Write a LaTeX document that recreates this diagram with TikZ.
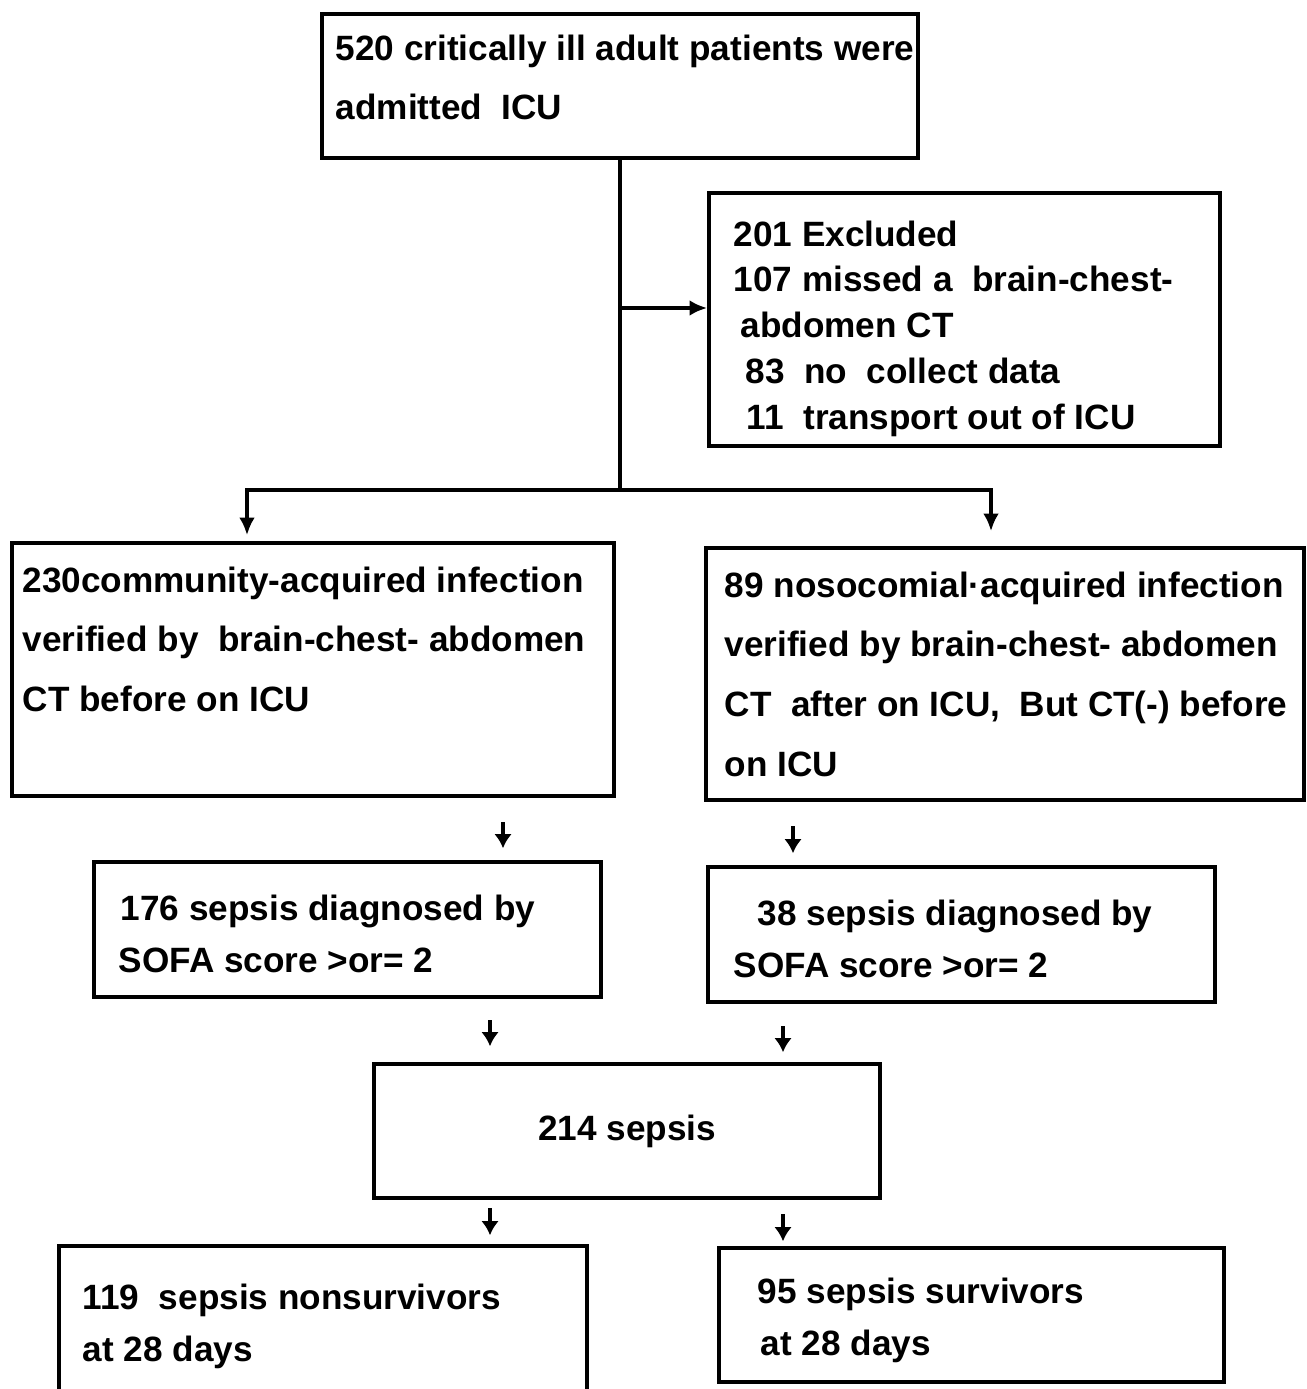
\documentclass[tikz,border=0pt]{standalone}
\usepackage{fontspec}
\setmainfont{Liberation Sans}
\usetikzlibrary{arrows.meta,
           calc,
           positioning}

\tikzset{
  frame/.style={draw, line width=1pt, inner sep=0pt},
  linesp/.style={font=\fontsize{10}{#1}\selectfont\bfseries},
  txt/.style={align=left, inner sep=0pt, anchor=north west, linesp=17pt},
  arr/.style={line width=1pt, -{Latex[length=5pt,width=4.5pt]}},
  sarr/.style={line width=1.1pt, -{Latex[length=4pt,width=5pt]}}
}

\begin{document}
\begin{tikzpicture}[x=0.01cm,y=-0.01cm]
\clip (0,0) rectangle (1306,1389);
\fill[white] (0,0) rectangle (1306,1389);
% boxes
\node[frame, minimum width=5.96cm, minimum height=1.44cm] (adm) at (620,86) {};
\node[frame, minimum width=5.11cm, minimum height=2.53cm] (excl) at (964.5,319.5) {};
\node[frame, minimum width=6.02cm, minimum height=2.53cm] (comm) at (313,669.5) {};
\node[frame, minimum width=5.98cm, minimum height=2.52cm] (noso) at (1005,674) {};
\node[frame, minimum width=5.07cm, minimum height=1.35cm] (sofaA) at (347.5,929.5) {};
\node[frame, minimum width=5.07cm, minimum height=1.35cm] (sofaB) at (961.5,934.5) {};
\node[frame, linesp=17pt, minimum width=5.06cm, minimum height=1.34cm] (seps) at (627,1131) {214 sepsis};
\node[frame, minimum width=5.28cm, minimum height=1.74cm] (nonsurv) at (323,1333) {};
\node[frame, minimum width=5.05cm, minimum height=1.34cm] (surv) at (971.5,1315) {};
% texts
\node[txt] (admtxt) at (335,34) {520 critically ill adult patients were\\admitted\ \ ICU};
\node[txt, linesp=13pt] (excltxt) at (733,220) {201 Excluded\\107 missed a\ \ brain-chest-\\\hspace*{0.07cm}abdomen CT\\\hspace*{0.12cm}83\ \ no\ \ collect data\\\hspace*{0.13cm}11\ \ transport out of ICU};
\node[txt] (commtxt) at (22,566) {230community-acquired infection\\verified by\ \ brain-chest- abdomen\\CT before on ICU};
\node[txt] (nosotxt) at (724,571) {89 nosocomial·acquired infection\\verified by brain-chest- abdomen\\CT\ \ after on ICU,\ \ But CT(-) before\\on ICU};
\node[txt, linesp=15pt] (sofaAtxt) at (118,894) {\hspace*{0.02cm}176 sepsis diagnosed by\\SOFA score >or= 2};
\node[txt, linesp=15pt] (sofaBtxt) at (733,899) {\hspace*{0.24cm}38 sepsis diagnosed by\\SOFA score >or= 2};
\node[txt, linesp=15pt] (nonsurvtxt) at (82,1283) {119\ \ sepsis nonsurvivors\\at 28 days};
\node[txt, linesp=15pt] (survtxt) at (757,1277) {95 sepsis survivors\\\hspace*{0.03cm}at 28 days};
% connectors
\coordinate (jx) at (620,308);
\coordinate (jy) at (620,490);
\coordinate (cl) at (247,490);
\coordinate (cr) at (991,490);
\draw[line width=1pt] (adm.south) -- (jy);
\draw[arr] (jx) -- (jx -| excl.west);
\draw[arr, shorten >=0.06cm] (jy) -| (cl |- comm.north);
\draw[arr, shorten >=0.15cm] (jy) -| (cr |- noso.north);
\foreach \x/\y/\b/\s in {503/822/sofaA/0.12cm, 793/826/sofaB/0.12cm,
                         490/1020/seps/0.16cm, 783/1026/seps/0.10cm,
                         490/1208/nonsurv/0.09cm, 783/1214/surv/0.05cm}{
  \coordinate (s) at (\x,\y);
  \draw[sarr, shorten >=\s] (s) -- (s |- \b.north);
}
\end{tikzpicture}
\end{document}
